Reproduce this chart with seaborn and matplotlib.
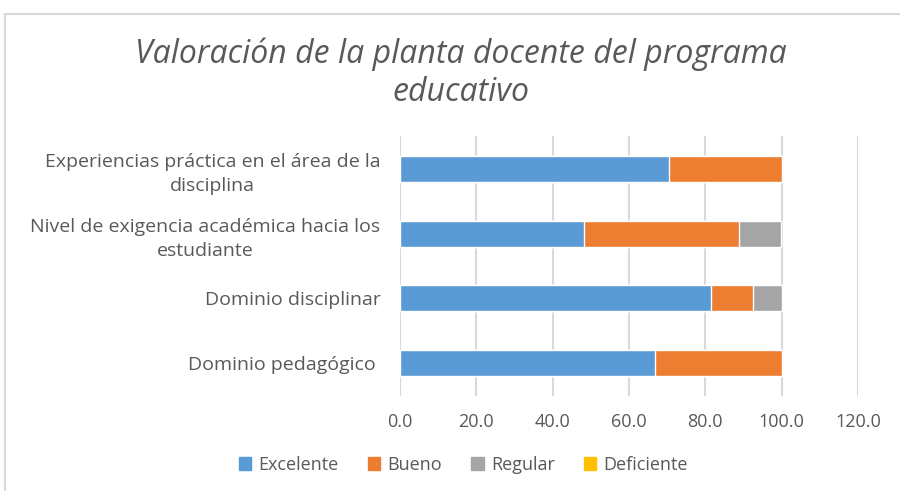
import matplotlib
matplotlib.use("Agg")
import matplotlib.pyplot as plt
import matplotlib.patches as mpatches
from matplotlib.ticker import FormatStrFormatter
import pandas as pd
import seaborn as sns

categories = [
    "Experiencias práctica en el área de la\ndisciplina",
    "Nivel de exigencia académica hacia los\nestudiante",
    "Dominio disciplinar",
    "Dominio pedagógico ",
]
excelente = [70.4, 48.1, 81.5, 66.7]
bueno = [29.6, 40.7, 11.1, 33.3]
regular = [0.0, 11.1, 7.4, 0.0]
deficiente = [0.0, 0.0, 0.0, 0.0]

series_names = ["Excelente", "Bueno", "Regular", "Deficiente"]
colors = ["#5b9bd5", "#ed7d31", "#a5a5a5", "#ffc000"]
xticks = [0, 20, 40, 60, 80, 100, 120]
title = "Valoración de la planta docente del programa\neducativo"

sns.set_theme(style="white")
plt.rcParams["font.family"] = ["Open Sans", "DejaVu Sans"]
text_color = "#595959"

df = pd.DataFrame({"categoria": categories, "Excelente": excelente, "Bueno": bueno,
                   "Regular": regular, "Deficiente": deficiente})
# cumulative sums so each series can be overlaid as a full bar
cum = df[series_names].cumsum(axis=1)
cum["categoria"] = categories

fig = plt.figure(figsize=(9, 4.91), dpi=100)
ax = fig.add_axes([0.4444, 0.1935, 0.5089, 0.5295])

for name, color in reversed(list(zip(series_names, colors))):
    sns.barplot(data=cum, x=name, y="categoria", color=color, width=0.4,
                orient="h", ax=ax, saturation=1, zorder=2)

ax.set_xlim(0, 120)
ax.set_xticks(xticks)
ax.xaxis.set_major_formatter(FormatStrFormatter("%.1f"))
ax.set_xlabel("")
ax.set_ylabel("")
ax.grid(axis="x", color="#d9d9d9", linewidth=1.5, zorder=0)
ax.set_axisbelow(True)
for s in ax.spines.values():
    s.set_visible(False)
ax.tick_params(axis="x", length=0, pad=12, labelsize=13, labelcolor=text_color)
ax.tick_params(axis="y", length=0, pad=14, labelsize=14, labelcolor=text_color)
for lbl in ax.get_yticklabels():
    lbl.set_multialignment("center")
    lbl.set_linespacing(1.45)

fig.text(0.512, 1 - 73 / 491, title, ha="center", va="center", fontsize=23,
         style="italic", color=text_color, linespacing=1.2)

handles = [mpatches.Patch(color=c, label=n) for n, c in zip(series_names, colors)]
leg = fig.legend(handles=handles, loc="center", bbox_to_anchor=(0.515, 0.053), ncol=4,
                 frameon=False, fontsize=13, handlelength=0.7, handleheight=0.7,
                 handletextpad=0.4, columnspacing=1.6)
for t in leg.get_texts():
    t.set_color(text_color)

# outer chart border
fig.patches.append(mpatches.Rectangle((5 / 900, -0.01), 1.0, 1 - 14 / 491 + 0.01,
                                      transform=fig.transFigure, fill=False,
                                      edgecolor="#d9d9d9", linewidth=1.5))

fig.savefig("out.png", dpi=100)
